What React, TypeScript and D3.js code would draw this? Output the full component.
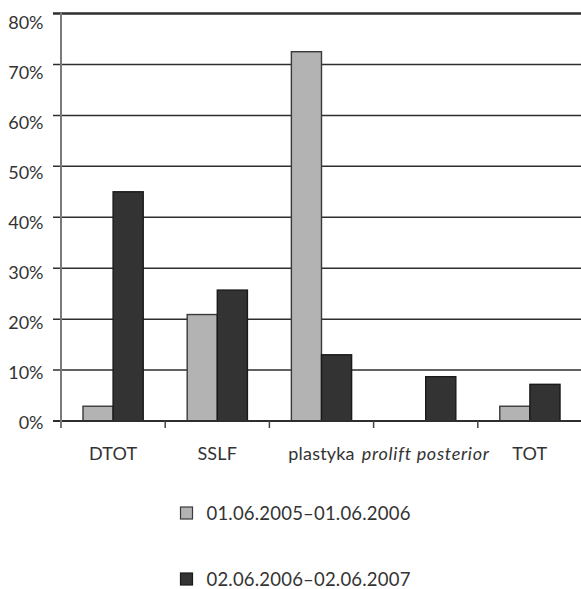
import React from "react";
import * as d3 from "d3";

const categories = ["DTOT", "SSLF", "plastyka", "prolift posterior", "TOT"];
const italicCats = ["prolift posterior"];
const series1Name = "01.06.2005–01.06.2006";
const series2Name = "02.06.2006–02.06.2007";
const series1 = [2.9, 20.9, 72.5, 0, 2.9];
const series2 = [45.0, 25.7, 13.0, 8.7, 7.2];
const yTicks = [0, 10, 20, 30, 40, 50, 60, 70, 80];
const seriesNames = [series1Name, series2Name];
const seriesValues = [series1, series2];
const seriesFill = ["#b3b3b3", "#333333"];
const seriesStroke = ["#3a3a3a", "#1a1a1a"];

const W = 581;
const H = 589;
const FONT = "Lato, 'Open Sans', sans-serif";

export default function App() {
  const left = 61;
  const right = 582;
  const y = d3.scaleLinear().domain([0, 80]).range([421, 13.5]);
  const yLab = d3.scaleLinear().domain([0, 80]).range([429, 29.3]);
  const x0 = d3.scaleBand<string>().domain(categories).range([left, right]).paddingInner(0).paddingOuter(0);
  const x1 = d3
    .scaleBand<number>()
    .domain([0, 1])
    .range([0, x0.bandwidth()])
    .paddingInner(0)
    .paddingOuter(0.73);

  return (
    <svg width={W} height={H} style={{ position: "absolute", left: 0, top: 0, background: "#fff" }}>
      {yTicks.map((t) => (
        <line
          key={"g" + t}
          x1={53}
          x2={W}
          y1={y(t)}
          y2={y(t)}
          stroke="#2e2e2e"
          strokeWidth={t === 80 ? 2.4 : 1.5}
        />
      ))}
      {yTicks.map((t) => (
        <text
          key={"l" + t}
          x={43.5}
          y={yLab(t)}
          textAnchor="end"
          fontFamily={FONT}
          fontSize={18}
          fill="#333"
        >
          {t + "%"}
        </text>
      ))}
      {categories.map((c, i) => (
        <g key={c} transform={`translate(${x0(c)},0)`}>
          {seriesValues.map((vals, s) =>
            vals[i] > 0 ? (
              <rect
                key={s}
                x={x1(s)}
                y={y(vals[i])}
                width={x1.bandwidth()}
                height={y(0) - y(vals[i])}
                fill={seriesFill[s]}
                stroke={seriesStroke[s]}
                strokeWidth={1.4}
              />
            ) : null
          )}
        </g>
      ))}
      <line x1={53} x2={W} y1={y(0)} y2={y(0)} stroke="#2e2e2e" strokeWidth={1.8} />
      {categories.slice(1).map((c) => (
        <line key={"t" + c} x1={x0(c)} x2={x0(c)} y1={y(0)} y2={y(0) + 7} stroke="#444" strokeWidth={1.5} />
      ))}
      <line x1={left} x2={left} y1={y(80) - 1} y2={y(0) + 7} stroke="#7a7a7a" strokeWidth={2} />
      {categories.map((c) => {
        const it = italicCats.includes(c);
        return (
          <text
            key={"c" + c}
            x={(x0(c) as number) + x0.bandwidth() / 2}
            y={460}
            textAnchor="middle"
            fontFamily={FONT}
            fontSize={18}
            fontStyle={it ? "italic" : "normal"}
            letterSpacing={it ? 0.7 : 0.2}
            fill="#333"
          >
            {c}
          </text>
        );
      })}
      {seriesNames.map((n, s) => (
        <g key={"lg" + s} transform={`translate(0,${s * 66})`}>
          <rect x={180.5} y={507} width={12} height={12} fill={seriesFill[s]} stroke={seriesStroke[s]} strokeWidth={1.2} />
          <text x={206.5} y={520.3} fontFamily={FONT} fontSize={18.5} letterSpacing={0.2} fill="#333">
            {n}
          </text>
        </g>
      ))}
    </svg>
  );
}
